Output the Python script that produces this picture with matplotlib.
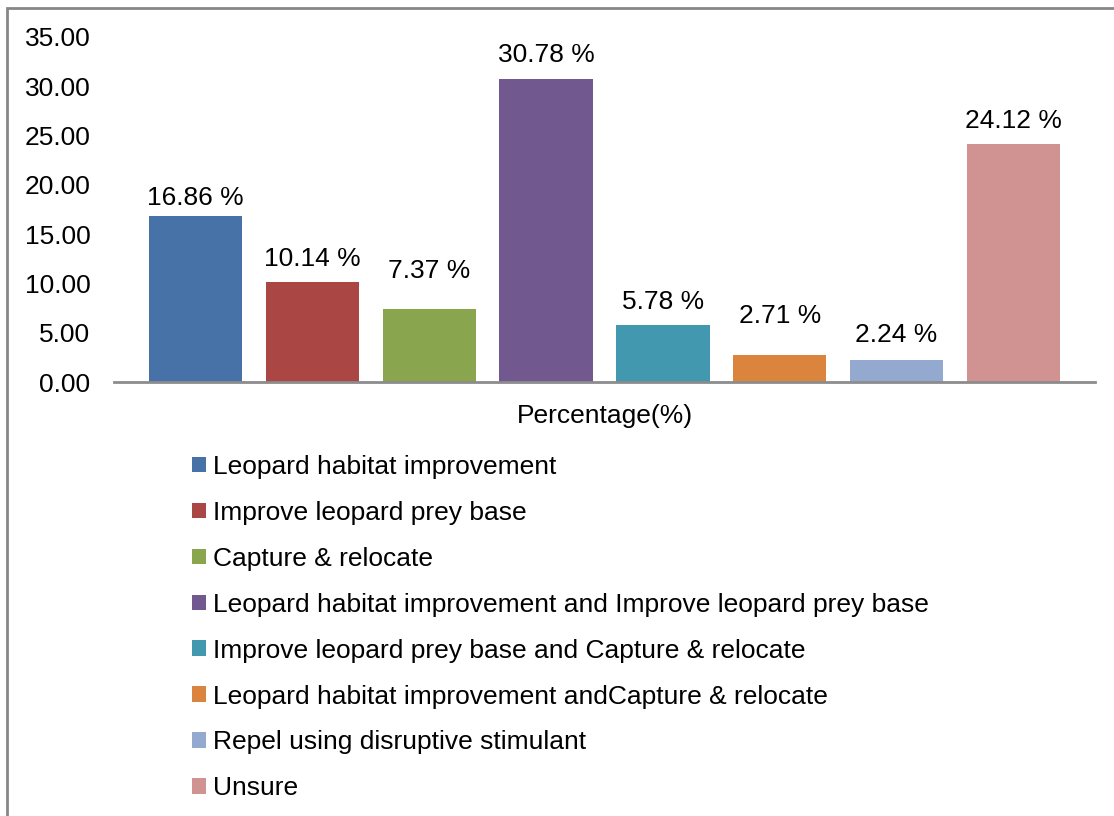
import matplotlib
matplotlib.use("Agg")
import matplotlib.pyplot as plt
from matplotlib.patches import Patch, Rectangle

categories = [
    "Leopard habitat improvement",
    "Improve leopard prey base",
    "Capture & relocate",
    "Leopard habitat improvement and Improve leopard prey base",
    "Improve leopard prey base and Capture & relocate",
    "Leopard habitat improvement andCapture & relocate",
    "Repel using disruptive stimulant",
    "Unsure",
]
values = [16.86, 10.14, 7.37, 30.78, 5.78, 2.71, 2.24, 24.12]
colors = ["#4672A8", "#AA4643", "#89A54E", "#71588F", "#4198AF", "#DB843D", "#93A9CF", "#D19392"]
yticks = [0, 5, 10, 15, 20, 25, 30, 35]
# label offsets above bar tops (points), as placed in the original
label_offsets = [4, 8.3, 19, 8.3, 7.6, 19.8, 9, 8.3]

plt.rcParams['font.family'] = ['Liberation Sans', 'DejaVu Sans']
FS = 19

W, H = 1114, 816
fig = plt.figure(figsize=(W / 100, H / 100), dpi=100)
ax = fig.add_axes([114 / W, 1 - 382 / H, (1095 - 114) / W, (382 - 37) / H])

x = list(range(len(values)))
ax.bar(x, values, width=0.8, color=colors)
for xi, v, off in zip(x, values, label_offsets):
    ax.annotate(f"{v:.2f} %", (xi, v), xytext=(0, off), textcoords="offset points",
                ha="center", va="bottom", fontsize=FS)

ax.set_xlim(-0.70, 7.70)
ax.set_ylim(0, 35)
ax.set_yticks(yticks)
ax.set_yticklabels([f"{t:.2f}" for t in yticks], fontsize=FS)
ax.set_xticks([])
ax.tick_params(axis="y", length=0, pad=17)
for s in ["top", "right", "left"]:
    ax.spines[s].set_visible(False)
ax.spines["bottom"].set_color("#8c8c8c")
ax.spines["bottom"].set_linewidth(2)
ax.set_xlabel("Percentage(%)", fontsize=FS, labelpad=15.5)

handles = [Patch(facecolor=c, edgecolor="none") for c in colors]
fig.legend(handles, categories, loc="upper left", bbox_to_anchor=(192 / W, 1 - 455 / H),
           frameon=False, fontsize=FS, handlelength=0.53, handleheight=0.53,
           handletextpad=0.25, labelspacing=0.83, borderaxespad=0, borderpad=0)

# outer border (left and top visible)
fig.patches.append(Rectangle((6.5 / W, -0.05), 1.2, (1 - 8 / H) + 0.05, transform=fig.transFigure,
                             fill=False, edgecolor="#878787", linewidth=2))

fig.savefig("out.png", dpi=100)
